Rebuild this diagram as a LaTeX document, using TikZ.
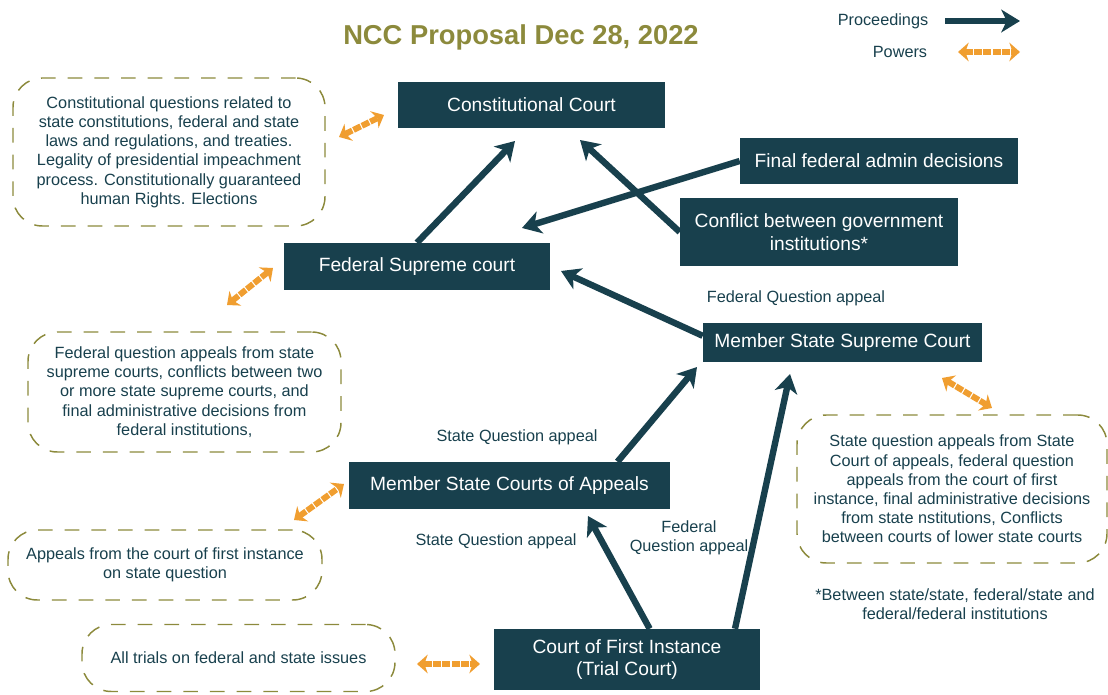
\documentclass[tikz,border=0pt]{standalone}
\usepackage{fontspec}
\setmainfont{Liberation Sans}
\usetikzlibrary{arrows.meta}
\definecolor{court}{RGB}{24,64,77}
\definecolor{olive}{RGB}{140,138,60}
\definecolor{power}{RGB}{240,158,48}
\tikzset{
  courtbox/.style={fill=court,text=white,align=center,inner sep=2pt,
    font=\fontsize{14.4}{17}\selectfont},
  notebox/.style={draw=olive,line width=1.1pt,dash pattern=on 11pt off 9pt,
    rounded corners=22pt,text=court,align=center,inner sep=2pt,
    font=\fontsize{12.2}{14.4}\selectfont},
  lbl/.style={text=court,align=center,font=\fontsize{12.2}{14.4}\selectfont},
  proc/.style={draw=court,line width=4.8pt,
    -{Stealth[length=14pt,width=17pt,inset=4pt]}},
  powr/.style={draw=power,line width=4.5pt,dash pattern=on 6pt off 1pt,
    {Stealth[length=8pt,width=14pt,inset=2.5pt]}-{Stealth[length=8pt,width=14pt,inset=2.5pt]}}
}
\begin{document}
\begin{tikzpicture}[x=0.75pt,y=-0.75pt]
\useasboundingbox (0,0) rectangle (1108,695);

% title and legend
\node[text=olive,font=\fontsize{20.5}{24}\selectfont\bfseries] (title) at (521,37) {NCC Proposal Dec 28, 2022};
\node[lbl] (legproc) at (883,21) {Proceedings};
\node[lbl] (legpow) at (900,52) {Powers};
\coordinate (lp1) at (945,21);
\coordinate (lp2) at (1020,21);
\coordinate (lw1) at (958,52);
\coordinate (lw2) at (1020,52);
\draw[proc] (lp1) -- (lp2);
\draw[powr] (lw1) -- (lw2);

% courts
\node[courtbox,minimum width=200.25pt,minimum height=34.5pt] (cc) at (531.5,105) {Constitutional Court};
\node[courtbox,minimum width=208.5pt,minimum height=34.5pt] (ffad) at (879,161) {Final federal admin decisions};
\node[courtbox,minimum width=208.5pt,minimum height=51pt] (conf) at (819,232) {Conflict between government\\institutions*};
\node[courtbox,minimum width=199.5pt,minimum height=35.25pt] (fsc) at (417,266.5) {Federal Supreme court};
\node[courtbox,minimum width=209.25pt,minimum height=29.25pt] (mssc) at (842.5,342.5) {Member State Supreme Court};
\node[courtbox,minimum width=240.75pt,minimum height=35.25pt] (msca) at (509.5,485.5) {Member State Courts of Appeals};
\node[courtbox,minimum width=199.5pt,minimum height=45.75pt] (cfi) at (627,659.5) {Court of First Instance\\(Trial Court)};

% powers
\node[notebox,minimum width=234pt,minimum height=111pt] (ccnote) at (169,152) {Constitutional questions related to\\state constitutions, federal and state\\laws and regulations, and treaties.\\Legality of presidential impeachment\\process. Constitutionally guaranteed\\human Rights. Elections};
\node[notebox,minimum width=234.75pt,minimum height=90pt] (fscnote) at (184.5,392) {Federal question appeals from state\\supreme courts, conflicts between two\\or more state supreme courts, and\\final administrative decisions from\\federal institutions,};
\node[notebox,minimum width=232.5pt,minimum height=111pt] (msscnote) at (952,489) {State question appeals from State\\Court of appeals, federal question\\appeals from the court of first\\instance, final administrative decisions\\from state nstitutions, Conflicts\\between courts of lower state courts};
\node[notebox,minimum width=235.5pt,minimum height=52.5pt] (mscanote) at (165,565) {Appeals from the court of first instance\\on state question};
\node[notebox,minimum width=234.75pt,minimum height=50.25pt] (cfinote) at (238.5,658) {All trials on federal and state issues};

% labels
\node[lbl] (fqa1) at (796,298) {Federal Question appeal};
\node[lbl] (sqa1) at (517,437) {State Question appeal};
\node[lbl] (sqa2) at (496,541) {State Question appeal};
\node[lbl] (fqa2) at (689,538) {Federal\\Question appeal};
\node[lbl] (foot) at (955,604) {*Between state/state, federal/state and\\federal/federal institutions};

% proceedings
\coordinate (ccA) at (515,141);
\coordinate (ccB) at (580,140);
\coordinate (fscA) at (522,228);
\coordinate (fscB) at (561,271);
\coordinate (msscA) at (697,367);
\coordinate (msscB) at (790,374);
\coordinate (mscaA) at (588,516);
\draw[proc] (fsc.north) -- (ccA);
\draw[proc] (conf.west) -- (ccB);
\draw[proc] (ffad.west) -- (fscA);
\draw[proc] ([yshift=5pt]mssc.west) -- (fscB);
\draw[proc] ([xshift=81pt]msca.north) -- (msscA);
\draw[proc] ([xshift=17pt]cfi.north) -- (mscaA);
\draw[proc] ([xshift=81pt]cfi.north) -- (msscB);

% power arrows
\coordinate (w1a) at (339,137);
\coordinate (w1b) at (384,115);
\coordinate (w2a) at (227,305);
\coordinate (w2b) at (273,268);
\coordinate (w3a) at (942,378);
\coordinate (w3b) at (992,408);
\coordinate (w4a) at (294,520);
\coordinate (w4b) at (344,484);
\coordinate (w5a) at (417,664);
\coordinate (w5b) at (480,664);
\draw[powr] (w1a) -- (w1b);
\draw[powr] (w2a) -- (w2b);
\draw[powr] (w3a) -- (w3b);
\draw[powr] (w4a) -- (w4b);
\draw[powr] (w5a) -- (w5b);
\end{tikzpicture}
\end{document}
